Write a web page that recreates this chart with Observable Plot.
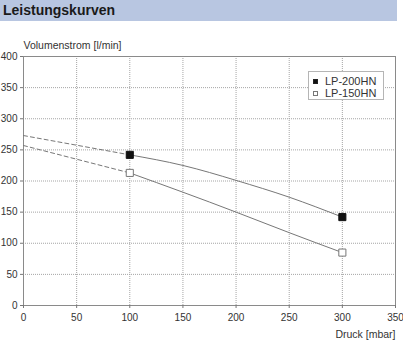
<!DOCTYPE html>
<html>
<head>
<meta charset="utf-8">
<script src="https://cdn.jsdelivr.net/npm/d3@7"></script>
<script src="https://cdn.jsdelivr.net/npm/@observablehq/plot@0.6"></script>
<style>
  html, body { margin: 0; padding: 0; background: #fff; }
  body { width: 403px; height: 340px; overflow: hidden; font-family: "Liberation Sans", Arial, Helvetica, sans-serif; position: relative; }
  #title { width: 397px; height: 21px; background: #b8c6e1; color: #1a1a1a; font-weight: bold; font-size: 14px; line-height: 21px; padding-left: 3px; box-sizing: border-box; }
  #legend { position: absolute; left: 308px; top: 71px; width: 76px; height: 29px; border: 1px solid #b5b5b5; background: #fff; box-sizing: border-box; font-size: 11px; color: #333; }
  .row { position: absolute; left: 4px; height: 12px; line-height: 12px; }
  .sw { display: inline-block; width: 5px; height: 5px; box-sizing: border-box; border: 1px solid #222; vertical-align: middle; margin-right: 7px; position: relative; top: -1px; }
  svg { display: block; }
</style>
</head>
<body>
<div id="title">Leistungskurven</div>
<div id="chart"></div>
<div id="legend">
  <div class="row" style="top:3px"><span class="sw" style="background:#111"></span>LP-200HN</div>
  <div class="row" style="top:15px"><span class="sw" style="background:#fff;border-color:#777"></span>LP-150HN</div>
</div>
<script>
const xTicks = [0, 50, 100, 150, 200, 250, 300, 350];
const yTicks = [0, 50, 100, 150, 200, 250, 300, 350, 400];

// LP-200HN measured curve (Druck mbar, Volumenstrom l/min)
const lp200Druck = [100, 150, 200, 250, 300];
const lp200Flow  = [242, 225, 201, 174, 142];
// LP-200HN dashed extrapolation
const lp200ExtDruck = [0, 100];
const lp200ExtFlow  = [273, 242];

// LP-150HN measured curve
const lp150Druck = [100, 150, 200, 250, 300];
const lp150Flow  = [213, 182, 150, 117, 85];
// LP-150HN dashed extrapolation
const lp150ExtDruck = [0, 100];
const lp150ExtFlow  = [257, 213];

// Marker points
const markDruck = [100, 300];
const lp200Marks = [242, 142];
const lp150Marks = [213, 85];

const toPts = (xs, ys) => xs.map((x, i) => ({x, y: ys[i]}));

const chart = Plot.plot({
  width: 403,
  height: 319,
  marginLeft: 23,
  marginRight: 8,
  marginTop: 35,
  marginBottom: 35,
  style: {fontFamily: "'Liberation Sans', Arial, Helvetica, sans-serif", fontSize: "10px", color: "#333", background: "transparent"},
  x: {domain: [0, 350]},
  y: {domain: [0, 400]},
  marks: [
    Plot.gridX(xTicks, {stroke: "#a5a5a5", strokeOpacity: 1, strokeDasharray: "1,1"}),
    Plot.gridY(yTicks, {stroke: "#a5a5a5", strokeOpacity: 1, strokeDasharray: "1,1"}),
    Plot.frame({stroke: "#8a8a8a"}),
    Plot.axisX(xTicks, {tickSize: 3, tickPadding: 5, label: null, stroke: "#777", fill: "#333", fontSize: 10}),
    Plot.axisY(yTicks, {tickSize: 3, tickPadding: 3, label: null, stroke: "#777", fill: "#333", fontSize: 10}),
    Plot.line(toPts(lp200ExtDruck, lp200ExtFlow), {x: "x", y: "y", stroke: "#777", strokeWidth: 1, strokeDasharray: "4,3"}),
    Plot.line(toPts(lp150ExtDruck, lp150ExtFlow), {x: "x", y: "y", stroke: "#777", strokeWidth: 1, strokeDasharray: "4,3"}),
    Plot.line(toPts(lp200Druck, lp200Flow), {x: "x", y: "y", stroke: "#777", strokeWidth: 1, curve: "natural"}),
    Plot.line(toPts(lp150Druck, lp150Flow), {x: "x", y: "y", stroke: "#777", strokeWidth: 1, curve: "natural"}),
    Plot.dot(toPts(markDruck, lp200Marks), {x: "x", y: "y", symbol: "square", r: 4, fill: "#111", stroke: "#111", strokeWidth: 1}),
    Plot.dot(toPts(markDruck, lp150Marks), {x: "x", y: "y", symbol: "square", r: 4, fill: "#fff", stroke: "#777", strokeWidth: 1}),
    Plot.text(["Volumenstrom [l/min]"], {frameAnchor: "top-left", dy: -15, textAnchor: "start", fontSize: 10.5, fill: "#333"}),
    Plot.text(["Druck [mbar]"], {frameAnchor: "bottom-right", dy: 32, textAnchor: "end", fontSize: 10.5, fill: "#333"})
  ]
});
document.getElementById("chart").appendChild(chart);
</script>
</body>
</html>
